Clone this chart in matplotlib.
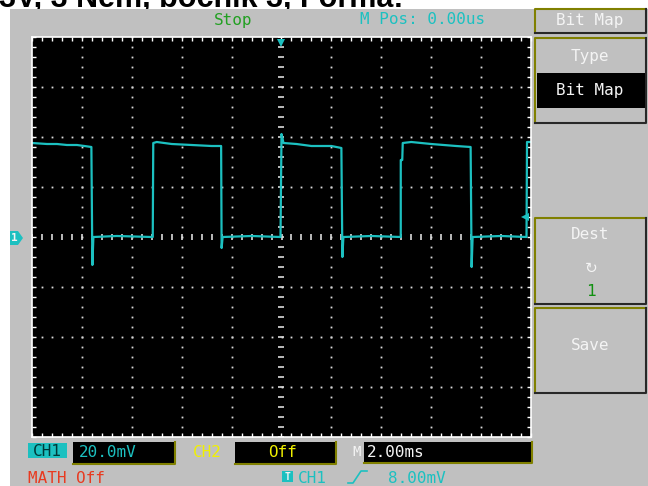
import matplotlib.pyplot as plt
from matplotlib.patches import Rectangle, Polygon
import numpy as np

plt.rcParams['font.family'] = ['DejaVu Sans Mono', 'DejaVu Sans']

# CH1 trace: time in ms, voltage in mV
wave_t = [-10.0, -9.4, -9.0, -8.6, -8.2, -7.9, -7.62, -7.58, -7.54, -6.6, -5.2,
          -5.16, -5.14, -5.0, -4.4, -3.6, -2.8, -2.42, -2.40, -2.36, -1.2, -0.04,
          0.0, 0.08, 0.6, 1.2, 2.0, 2.40, 2.44, 2.48, 3.6, 4.78,
          4.78, 4.84, 4.86, 5.2, 6.0, 7.0, 7.58, 7.62, 7.66, 8.8, 9.82,
          9.84, 10.0]
wave_mv = [37.6, 37.2, 37.2, 36.8, 36.8, 36.4, 36.0, -11.2, 0.0, 0.4, 0.0,
           0.0, 37.6, 38.0, 37.2, 36.8, 36.4, 36.4, -4.4, 0.0, 0.4, 0.0,
           41.2, 37.6, 37.2, 36.4, 36.4, 35.6, -8.0, 0.0, 0.4, 0.0,
           30.8, 30.8, 37.6, 38.0, 37.2, 36.4, 36.0, -12.0, 0.0, 0.4, 0.0,
           38.0, 38.0]

title = '3V, 3 Nem, bočník 3, Forma:'
run_state = 'Stop'
m_pos = 'M Pos: 0.00us'
ch1_scale = '20.0mV'
ch2_state = 'Off'
time_scale = '2.00ms'
math_state = 'MATH Off'
trig_source = 'CH1'
trig_level = 8.0
trig_text = '8.00mV'

GRAY = '#c0c0c0'
OLIVE = '#808000'
DARK = '#282828'
CYAN = '#1cc0c0'
WHITE = '#f4f4f4'

fig = plt.figure(figsize=(6.48, 4.86), dpi=100)

# background in pixel coordinates
bg = fig.add_axes([0, 0, 1, 1])
bg.set_xlim(0, 648)
bg.set_ylim(486, 0)
bg.axis('off')
bg.add_patch(Rectangle((10, 9), 638, 477, fc=GRAY, ec='none', zorder=2))

# caption above the screenshot, mostly cut off by the page edge
bg.text(-1, 7.5, title, family='Liberation Sans', weight='bold', fontsize=22,
        va='baseline', ha='left', color='black', zorder=1)


def button(x0, y0, x1, y1, face=GRAY):
    bg.add_patch(Rectangle((x0, y0), x1 - x0, y1 - y0, fc=face, ec='none', zorder=3))
    bg.plot([x0, x0, x1], [y1, y0, y0], color=OLIVE, lw=1.5, zorder=4)
    bg.plot([x0, x1, x1], [y1, y1, y0], color=DARK, lw=1.5, zorder=4)


def dark_box(x0, y0, x1, y1):
    bg.add_patch(Rectangle((x0, y0), x1 - x0, y1 - y0, fc='black', ec='none', zorder=3))
    bg.plot([x0, x1, x1], [y1, y1, y0], color=OLIVE, lw=1.5, zorder=4)


txt = dict(fontsize=11.5, va='center', zorder=5)

# top status line
bg.text(233, 20, run_state, color='#22a022', ha='center', **txt)
bg.text(423, 20, m_pos, color=CYAN, ha='center', **txt)

# right menu
button(535, 9, 646, 33)
bg.text(590, 21, 'Bit Map', color=WHITE, ha='center', **txt)
button(535, 38, 646, 123)
bg.add_patch(Rectangle((537, 73), 108, 35, fc='black', ec='none', zorder=4))
bg.text(590, 56, 'Type', color=WHITE, ha='center', **txt)
bg.text(590, 90, 'Bit Map', color=WHITE, ha='center', **txt)
button(535, 218, 646, 304)
bg.text(590, 234, 'Dest', color=WHITE, ha='center', **txt)
bg.text(591, 268, '\u21bb', family='DejaVu Sans', color=WHITE, fontsize=11,
        ha='center', va='center', zorder=5)
bg.text(591, 291, '1', color='#109010', ha='center', **txt)
button(535, 308, 646, 393)
bg.text(590, 345, 'Save', color=WHITE, ha='center', **txt)

# bottom status lines
bg.add_patch(Rectangle((28, 443), 39, 15, fc=CYAN, ec='none', zorder=3))
bg.text(47, 451, 'CH1', color='#003838', ha='center', **txt)
dark_box(73, 442, 175, 464)
bg.text(79, 452, ch1_scale, color=CYAN, ha='left', **txt)
bg.text(207, 452, 'CH2', color='#f0f000', ha='center', **txt)
dark_box(235, 442, 336, 464)
bg.text(283, 452, ch2_state, color='#f0f000', ha='center', **txt)
bg.text(357, 452, 'M', color=WHITE, fontsize=10, ha='center', va='center', zorder=5)
dark_box(364, 442, 532, 463)
bg.text(367, 452, time_scale, color=WHITE, ha='left', **txt)
bg.text(28, 478, math_state, color='#e83a20', ha='left', **txt)
bg.add_patch(Rectangle((282, 471), 11, 11, fc=CYAN, ec='none', zorder=3))
bg.text(287.5, 476.5, 'T', color=WHITE, fontsize=7, ha='center', va='center',
        weight='bold', zorder=5)
bg.text(298, 478, trig_source, color=CYAN, ha='left', **txt)
bg.plot([348, 353, 361, 367], [483, 483, 471, 471], color=CYAN, lw=1.2, zorder=5)
bg.text(388, 478, trig_text, color=CYAN, ha='left', **txt)

# channel 1 ground marker
bg.add_patch(Polygon([(10, 231), (18, 231), (23, 238), (18, 245), (10, 245)],
                     closed=True, fc=CYAN, ec='none', zorder=3))
bg.text(14.5, 238, '1', color=WHITE, fontsize=8, weight='bold', ha='center',
        va='center', zorder=5)

# scope screen
scr = fig.add_axes([32 / 648, (486 - 437) / 486, 499 / 648, 400 / 486])
scr.set_facecolor('black')
scr.set_xlim(-10, 10)
scr.set_ylim(-80, 80)
for sp in scr.spines.values():
    sp.set_color('white')
    sp.set_linewidth(1.2)
scr.set_xticks(np.arange(-10, 10.01, 2))
scr.set_xticks(np.arange(-10, 10.01, 0.4), minor=True)
scr.set_yticks(np.arange(-80, 80.01, 20))
scr.set_yticks(np.arange(-80, 80.01, 4), minor=True)
scr.tick_params(which='both', direction='in', length=3, width=1, colors='white',
                top=True, right=True, labelbottom=False, labelleft=False)

dot = dict(ls='none', marker='s', ms=1.3, mew=0, color='#dcdcdc')
fine_x = np.arange(-10, 10.01, 0.4)
fine_y = np.arange(-80, 80.01, 4)
for xv in [-8, -6, -4, -2, 2, 4, 6, 8]:
    scr.plot(np.full_like(fine_y, xv), fine_y, **dot)
for yv in [-60, -40, -20, 20, 40, 60]:
    scr.plot(fine_x, np.full_like(fine_x, yv), **dot)
scr.plot(fine_x, np.zeros_like(fine_x), ls='none', marker='|', ms=4, mew=1.2, color='#dadada')
scr.plot(np.zeros_like(fine_y), fine_y, ls='none', marker='_', ms=4, mew=1.2, color='#dadada')

scr.plot(wave_t, wave_mv, color=CYAN, lw=1.6)

# trigger markers
scr.plot([0], [77.5], marker='v', ms=6, color=CYAN, mew=0, clip_on=False)
scr.plot([9.75], [trig_level], marker='<', ms=6, color=CYAN, mew=0, clip_on=False)

fig.savefig('out.png', dpi=100)
